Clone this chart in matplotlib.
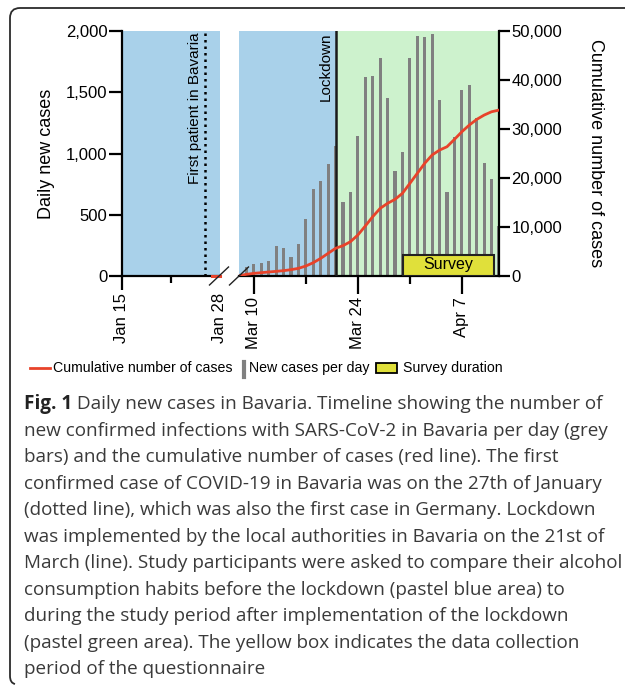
import numpy as np
import matplotlib
matplotlib.use('Agg')
import matplotlib.pyplot as plt
from matplotlib.lines import Line2D
from matplotlib.patches import Rectangle, PathPatch
from matplotlib.path import Path
from matplotlib.ticker import FuncFormatter

# Daily new cases (grey bars), Mar 9 - Apr 12
bar_dates = np.arange(np.datetime64('2020-03-09'), np.datetime64('2020-04-13'))
daily_cases = [76, 98, 109, 125, 248, 228, 158, 261, 463, 712, 778, 911, 1063,
               606, 688, 1142, 1626, 1630, 1776, 1455, 859, 1009, 1779,
               1961, 1950, 1975, 1436, 688, 1134, 1518, 1561, 1289, 920, 789, 410]

# Cumulative cases (red line), Mar 8 - Apr 12
cum_dates = np.arange(np.datetime64('2020-03-08'), np.datetime64('2020-04-13'))
cum_cases = [50, 340, 540, 680, 820, 950, 1090, 1290, 1560, 2040, 2720, 3600,
             4630, 5650, 6190, 7000, 8360, 10200, 12100, 13800, 14830, 15640,
             16870, 18900, 20950, 23000, 24700, 25700, 26380, 27880, 29440,
             30800, 31960, 32840, 33520, 33860]

# first cases in January
jan_dates = [np.datetime64('2020-01-27'), np.datetime64('2020-01-28')]
jan_cum = [1, 4]

jan_start, jan_end = np.datetime64('2020-01-15'), np.datetime64('2020-01-28')
mar_start, mar_end = np.datetime64('2020-03-08'), np.datetime64('2020-04-12')
first_patient_line = np.datetime64('2020-01-26')
lockdown = np.datetime64('2020-03-21')
survey_start = np.datetime64('2020-03-30T02')
survey_end = np.datetime64('2020-04-11T08')
survey_height = 170

left_ticks = [jan_start, jan_end]
left_ticklabels = ['Jan 15', 'Jan 28']
left_minor = [np.datetime64('2020-01-21T12')]
right_ticks = [np.datetime64('2020-03-10'), np.datetime64('2020-03-24'), np.datetime64('2020-04-07')]
right_ticklabels = ['Mar 10', 'Mar 24', 'Apr 7']
right_minor = [np.datetime64('2020-03-17'), np.datetime64('2020-03-31')]

blue = '#a9d1ea'
green = '#cdf2cd'
grey = '#808080'
red = '#e8432a'
yellow = '#e0e03a'

plt.rcParams['font.family'] = ['Liberation Sans', 'DejaVu Sans']
W, H = 625, 689
fig = plt.figure(figsize=(W / 100, H / 100), dpi=100)


def fx(px):
    return px / W


def fy(py):
    return 1 - py / H


comma = FuncFormatter(lambda v, p: '{:,.0f}'.format(v))
lw = 1.6

# left panel (January)
axl = fig.add_axes([fx(122), fy(276), fx(220) - fx(122), fy(31) - fy(276)])
axl.set_xlim(jan_start, jan_end)
axl.set_ylim(0, 2000)
axl.axvspan(jan_start, jan_end, color=blue, zorder=0, lw=0)
axl.axvline(first_patient_line, color='black', ls=(0, (1, 1.6)), lw=1.8, zorder=3)
axl.plot(jan_dates, [0, 0], color=red, lw=2.2, clip_on=False, zorder=4)
axl.annotate('First patient in Bavaria', xy=(first_patient_line, 1990),
             xytext=(-2, 0), textcoords='offset points', rotation=90,
             ha='right', va='top', fontsize=11)
axl.set_yticks([0, 500, 1000, 1500, 2000])
axl.yaxis.set_major_formatter(comma)
axl.set_xticks(left_ticks)
axl.set_xticklabels(left_ticklabels, rotation=90)
axl.set_xticks(left_minor, minor=True)
axl.xaxis.get_major_ticks()[1].tick1line.set_visible(False)
axl.set_ylabel('Daily new cases', fontsize=13, labelpad=8)
for s in ['top', 'right']:
    axl.spines[s].set_visible(False)
for s in ['left', 'bottom']:
    axl.spines[s].set_linewidth(lw)
axl.tick_params(axis='y', length=9.5, width=lw, labelsize=12, pad=1)
axl.tick_params(axis='x', which='major', length=10, width=lw, labelsize=12, pad=2)
axl.tick_params(axis='x', which='minor', length=5, width=lw)

# right panel (March - April)
axr = fig.add_axes([fx(239), fy(276), fx(499) - fx(239), fy(31) - fy(276)])
axr.set_xlim(mar_start, mar_end)
axr.set_ylim(0, 2000)
axr.axvspan(mar_start, lockdown, color=blue, zorder=0, lw=0)
axr.axvspan(lockdown, mar_end, color=green, zorder=0, lw=0)
axr.bar(bar_dates, daily_cases, width=0.42, color=grey, zorder=2, clip_on=True)
axr.axvline(lockdown, color='#1a1a1a', lw=1.8, zorder=3)
axr.annotate('Lockdown', xy=(lockdown, 1990), xytext=(-2, 0),
             textcoords='offset points', rotation=90, ha='right', va='top',
             fontsize=11)
axr.add_patch(Rectangle((survey_start, 0), survey_end - survey_start, survey_height,
                        facecolor=yellow, edgecolor='#222222', lw=1.5, zorder=4))
axr.text(survey_start + (survey_end - survey_start) / 2, survey_height / 2 + 8,
         'Survey', ha='center', va='center', fontsize=11.5, zorder=5)
axr.set_yticks([])
axr.set_xticks(right_ticks)
axr.set_xticklabels(right_ticklabels, rotation=90)
axr.set_xticks(right_minor, minor=True)
for s in ['top', 'right', 'left']:
    axr.spines[s].set_visible(False)
axr.spines['bottom'].set_linewidth(lw)
axr.tick_params(axis='x', which='major', length=13, width=lw, labelsize=12, pad=2)
axr.tick_params(axis='x', which='minor', length=6, width=lw)

axc = axr.twinx()
axc.plot(cum_dates, cum_cases, color=red, lw=2.0, zorder=5)
axc.set_ylim(0, 50000)
axc.set_xlim(mar_start, mar_end)
axc.set_yticks([0, 10000, 20000, 30000, 40000, 50000])
axc.yaxis.set_major_formatter(comma)
for s in ['top', 'left', 'bottom']:
    axc.spines[s].set_visible(False)
axc.spines['right'].set_linewidth(lw)
axc.tick_params(axis='y', length=8, width=lw, labelsize=12, pad=1)
axc.set_ylabel('Cumulative number of cases', fontsize=13, rotation=270,
               labelpad=30)

# axis break marks
for cx in [219, 239]:
    fig.add_artist(Line2D([fx(cx - 9.5), fx(cx + 9.5)], [fy(285), fy(267)],
                          color='#222222', lw=1.0))

# legend, drawn by hand to keep the tight spacing
ly = 368
leg_size = 10.2
fig.add_artist(Line2D([fx(30), fx(50)], [fy(ly), fy(ly)], color=red, lw=2))
fig.text(fx(53), fy(ly), 'Cumulative number of cases', fontsize=leg_size,
         va='center', ha='left')
fig.add_artist(Line2D([fx(243.5), fx(243.5)], [fy(362), fy(377)], color=grey, lw=3))
fig.text(fx(249), fy(ly), 'New cases per day', fontsize=leg_size,
         va='center', ha='left')
fig.add_artist(Rectangle((fx(376), fy(373)), fx(21), fy(363) - fy(373),
                         transform=fig.transFigure, facecolor=yellow,
                         edgecolor='black', lw=1.3))
fig.text(fx(403), fy(ly), 'Survey duration', fontsize=leg_size,
         va='center', ha='left')

# frame around the figure
verts = [(fx(625), fy(8)), (fx(20), fy(8)), (fx(10), fy(8)), (fx(10), fy(18)),
         (fx(10), fy(676)), (fx(10), fy(683)), (fx(15), fy(684))]
codes = [Path.MOVETO, Path.LINETO, Path.CURVE3, Path.CURVE3, Path.LINETO,
         Path.CURVE3, Path.CURVE3]
fig.add_artist(PathPatch(Path(verts, codes), transform=fig.transFigure,
                         fill=False, edgecolor='#2b2b2b', lw=1.3))

# caption
caption = [
    ' Daily new cases in Bavaria. Timeline showing the number of',
    'new confirmed infections with SARS-CoV-2 in Bavaria per day (grey',
    'bars) and the cumulative number of cases (red line). The first',
    'confirmed case of COVID-19 in Bavaria was on the 27th of January',
    '(dotted line), which was also the first case in Germany. Lockdown',
    'was implemented by the local authorities in Bavaria on the 21st of',
    'March (line). Study participants were asked to compare their alcohol',
    'consumption habits before the lockdown (pastel blue area) to',
    'during the study period after implementation of the lockdown',
    '(pastel green area). The yellow box indicates the data collection',
    'period of the questionnaire',
]
cap_font = ['Open Sans', 'DejaVu Sans']
cap_size = 13.6
y0 = 409
for i, line in enumerate(caption):
    if i == 0:
        lbl = fig.text(fx(24), fy(y0), 'Fig. 1', fontsize=cap_size, family=cap_font,
                       weight='bold', color='#222222', va='baseline')
        fig.canvas.draw()
        bb = lbl.get_window_extent()
        fig.text(bb.x1 / W, fy(y0), line, fontsize=cap_size, family=cap_font,
                 color='#3a3a3a', va='baseline')
    else:
        fig.text(fx(24), fy(y0 + 26.55 * i), line, fontsize=cap_size,
                 family=cap_font, color='#3a3a3a', va='baseline')

fig.savefig('out.png', dpi=100)
